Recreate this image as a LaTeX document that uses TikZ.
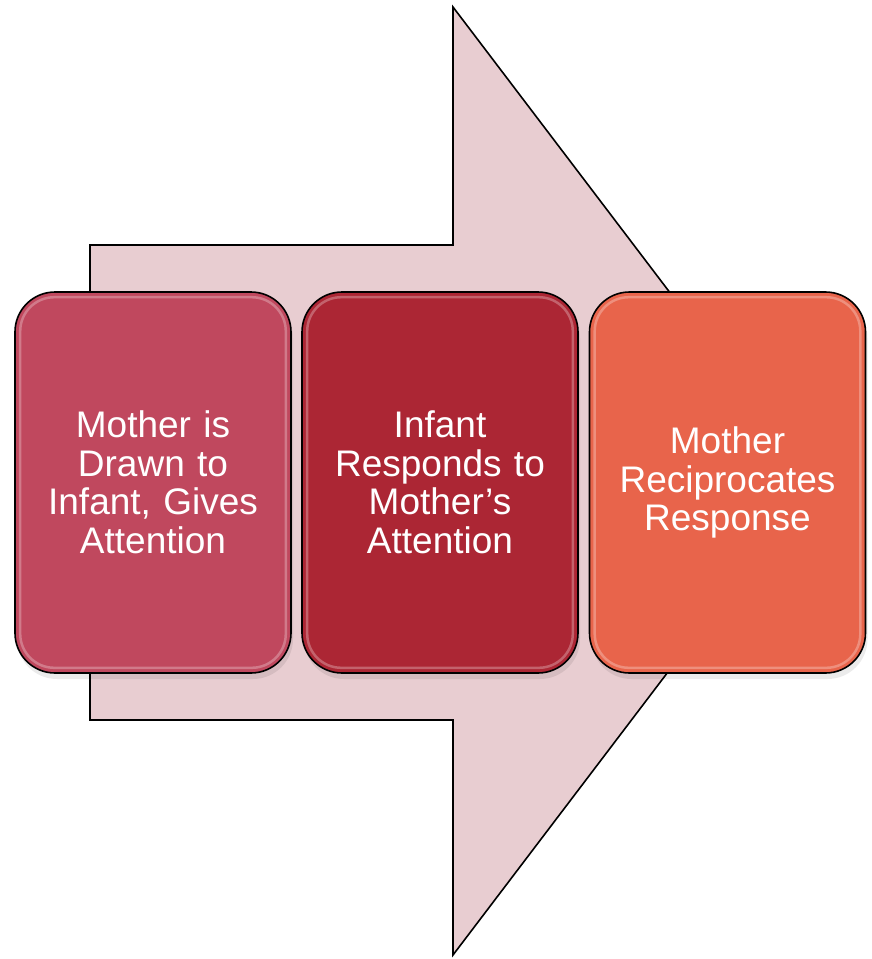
\documentclass[tikz,border=0pt]{standalone}
\usepackage{fontspec}
\setmainfont{Liberation Sans}
\begin{document}
\begin{tikzpicture}[x=1pt,y=-1pt,
  arrowbody/.style={fill=arrowpink,draw=black,line width=1.6pt,line join=miter},
  stepcard/.style={rounded corners=40pt,draw=black,line width=1.6pt,
    minimum width=276pt,minimum height=381pt,inner sep=0pt,
    text=white,align=center,text width=240pt,
    font=\fontsize{37}{38.5}\selectfont},
  gloss/.style={rounded corners=34pt,draw=white,line width=2.5pt,opacity=0.28}]
\definecolor{arrowpink}{HTML}{E8CDD1}
\definecolor{cardA}{HTML}{C0485E}
\definecolor{cardB}{HTML}{AC2634}
\definecolor{cardC}{HTML}{E8644B}
\useasboundingbox (0,0) rectangle (872,959);

% big block arrow behind the cards
\draw[arrowbody] (90,245) -- (453,245) -- (453,7) -- (813,481)
  -- (453,955) -- (453,720) -- (90,720) -- cycle;

% soft shadows under the cards
\foreach \cx in {153,440,727.5}
  \fill[black,opacity=0.08,rounded corners=40pt]
    (\cx-136,298) rectangle (\cx+140,679);

% the three cards
\node[stepcard,fill=cardA] (s1) at (153,482.5)
  {Mother is\\Drawn to\\Infant, Gives\\Attention};
\node[stepcard,fill=cardB] (s2) at (440,482.5)
  {Infant\\Responds to\\Mother’s\\Attention};
\node[stepcard,fill=cardC] (s3) at (727.5,482.5)
  {Mother\\Reciprocates\\Response};

% glossy inner rim
\foreach \n in {s1,s2,s3}
  \draw[gloss] ([shift={(6pt,-6pt)}]\n.north west) rectangle ([shift={(-6pt,6pt)}]\n.south east);
\end{tikzpicture}
\end{document}
